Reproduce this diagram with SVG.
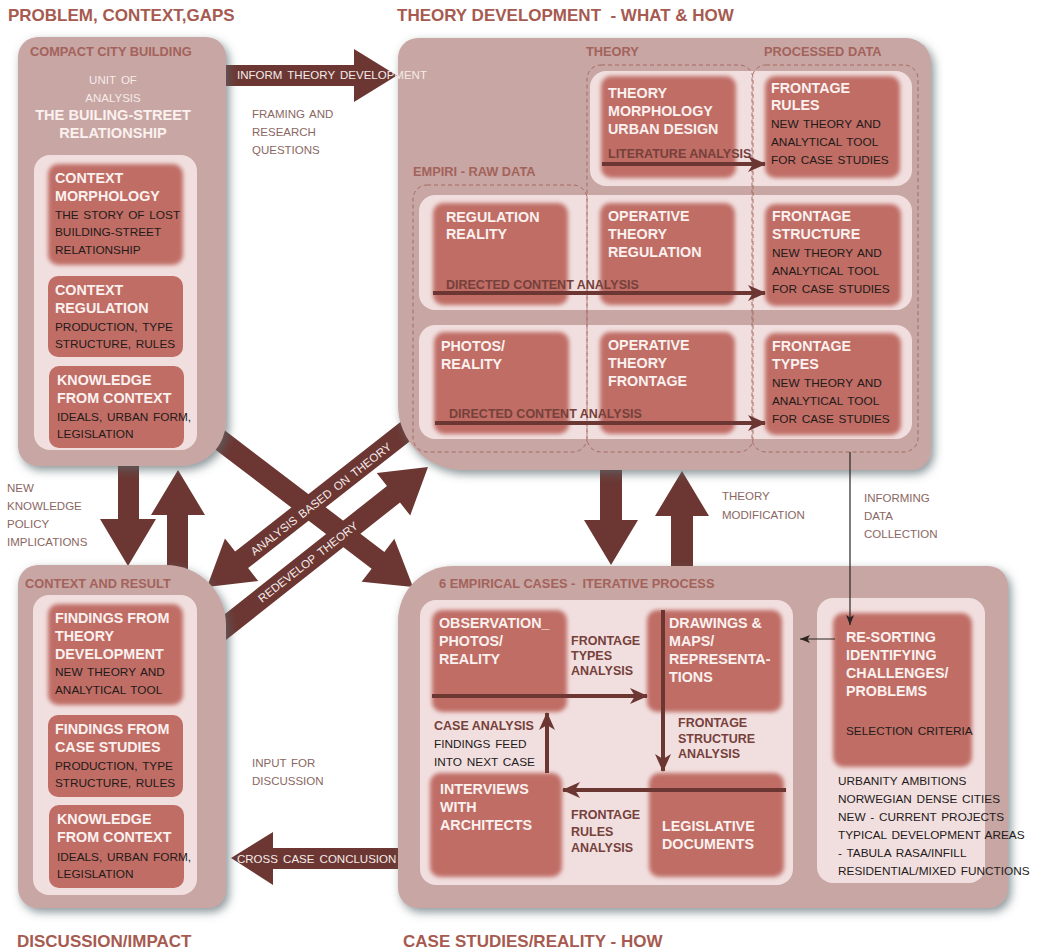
<svg xmlns="http://www.w3.org/2000/svg" width="1040" height="951" viewBox="0 0 1040 951">
  <defs>
    <style>
      text { font-family: 'Liberation Sans', Arial, sans-serif; }
      .ttl { font-weight: bold; font-size: 17px; fill: #a65a50; }
      .plab { font-weight: bold; font-size: 12.8px; fill: #a3625b; }
      .h { font-weight: bold; font-size: 14.3px; fill: #fbf1ef; }
      .hw { font-weight: bold; font-size: 14.6px; fill: #fbf1ef; }
      .b { font-size: 11.8px; fill: #231a19; word-spacing: 1.5px; }
      .g { font-size: 11.5px; fill: #8a6762; word-spacing: 1.5px; }
      .w { font-size: 11.5px; fill: #f4ebe9; word-spacing: 2px; }
      .d { font-weight: bold; font-size: 12.5px; fill: #76403b; }
      .panel { fill: #c8a6a3; filter: url(#shadow); }
      .inner { fill: #f1dfdf; }
      .node { fill: #bf6d65; }
      .soft { fill: #bf6d65; filter: url(#soft); }
      .blk { fill: #6c3733; }
      .flow { stroke: #6c3733; stroke-width: 4; fill: none; marker-end: url(#head); }
      .thin { stroke: #2b2423; stroke-width: 1.2; fill: none; marker-end: url(#thinhead); }
      .dash { fill: none; stroke: #a66a63; stroke-width: 1; stroke-dasharray: 4 3; }
    </style>
    <filter id="shadow" x="-10%" y="-10%" width="125%" height="125%">
      <feDropShadow dx="3" dy="4" stdDeviation="5" flood-color="#56666a" flood-opacity="0.7"/>
    </filter>
    <filter id="soft" x="-10%" y="-10%" width="120%" height="120%">
      <feGaussianBlur stdDeviation="2.2"/>
    </filter>
    <marker id="head" markerUnits="userSpaceOnUse" markerWidth="18" markerHeight="16" refX="17" refY="8" orient="auto">
      <path d="M0,0 L18,8 L0,16 L5,8 Z" fill="#6c3733"/>
    </marker>
    <marker id="thinhead" markerUnits="userSpaceOnUse" markerWidth="10" markerHeight="8" refX="10" refY="4" orient="auto">
      <path d="M0,0 L10,4 L0,8 L2.5,4 Z" fill="#2b2423"/>
    </marker>
  </defs>

  <rect width="1040" height="951" fill="#ffffff"/>

  <!-- section titles -->
  <text class="ttl" x="8" y="21">PROBLEM, CONTEXT,GAPS</text>
  <text class="ttl" x="397" y="21" xml:space="preserve">THEORY DEVELOPMENT  - WHAT &amp; HOW</text>
  <text class="ttl" x="17" y="947">DISCUSSION/IMPACT</text>
  <text class="ttl" x="403" y="947">CASE STUDIES/REALITY - HOW</text>

  <!-- block arrows running between the four panels (drawn beneath them) -->
  <g id="connectors">
    <!-- inform theory development -->
    <path class="blk" d="M220,65 H354 V49 L397,75.5 L354,102 V86 H220 Z"/>
    <!-- new knowledge down / up -->
    <path class="blk" d="M118,455 H139 V519 H156 L128,566 L100,519 H118 Z"/>
    <path class="blk" d="M167,575 V515 H151 L178,470 L205,515 H188 V575 Z"/>
    <!-- theory to cases, cases back to theory -->
    <path class="blk" d="M600,460 H622 V520 H638 L611,565 L584,520 H600 Z"/>
    <path class="blk" d="M671,575 V516 H655 L682,471 L709,516 H693 V575 Z"/>
    <!-- problem panel to cases -->
    <path class="blk" transform="translate(413,587) rotate(37.3)" d="M-270,-10.5 H-44 V-27 L0,0 L-44,27 V10.5 H-270 Z"/>
    <!-- analysis based on theory -->
    <path class="blk" transform="translate(207,587) rotate(141.9)" d="M-265,-10.5 H-44 V-27 L0,0 L-44,27 V10.5 H-265 Z"/>
    <!-- redevelop theory -->
    <path class="blk" transform="translate(428,467) rotate(-38.3)" d="M-275,-10.5 H-44 V-27 L0,0 L-44,27 V10.5 H-275 Z"/>
    <!-- cross case conclusion -->
    <path class="blk" d="M405,848 H273 V832 L231,858 L273,885 V869 H405 Z"/>
  </g>

  <!-- PROBLEM / CONTEXT panel -->
  <g id="panel-problem">
    <path class="panel" d="M38,37 H206 A20,20 0 0 1 226,57 V421 A45,45 0 0 1 181,466 H38 A20,20 0 0 1 18,446 V57 A20,20 0 0 1 38,37 Z"/>
    <text class="plab" x="30" y="56">COMPACT CITY BUILDING</text>
    <text class="w" x="113" y="84" text-anchor="middle">UNIT OF</text>
    <text class="w" x="113" y="102" text-anchor="middle">ANALYSIS</text>
    <text class="hw" x="113" y="120" text-anchor="middle">THE BUILING-STREET</text>
    <text class="hw" x="113" y="138" text-anchor="middle">RELATIONSHIP</text>
    <rect class="inner" x="34" y="155" width="163" height="295" rx="16"/>
    <g id="context-morphology">
      <rect class="soft" x="48" y="164" width="135" height="101" rx="10"/>
      <text class="h" x="55" y="183">CONTEXT</text>
      <text class="h" x="55" y="201">MORPHOLOGY</text>
      <text class="b" x="55" y="219">THE STORY OF LOST</text>
      <text class="b" x="55" y="236">BUILDING-STREET</text>
      <text class="b" x="55" y="254">RELATIONSHIP</text>
    </g>
    <g id="context-regulation">
      <rect class="node" x="48" y="276" width="135" height="81" rx="10"/>
      <text class="h" x="55" y="295">CONTEXT</text>
      <text class="h" x="55" y="313">REGULATION</text>
      <text class="b" x="55" y="331">PRODUCTION, TYPE</text>
      <text class="b" x="55" y="348">STRUCTURE, RULES</text>
    </g>
    <g id="knowledge-from-context-top">
      <rect class="node" x="49" y="366" width="135" height="82" rx="10"/>
      <text class="h" x="57" y="385">KNOWLEDGE</text>
      <text class="h" x="57" y="403">FROM CONTEXT</text>
      <text class="b" x="57" y="421">IDEALS, URBAN FORM,</text>
      <text class="b" x="57" y="438">LEGISLATION</text>
    </g>
  </g>

  <!-- CONTEXT AND RESULT panel -->
  <g id="panel-result">
    <path class="panel" d="M38,565 H166 A60,60 0 0 1 226,625 V890 A18,18 0 0 1 208,908 H38 A20,20 0 0 1 18,888 V585 A20,20 0 0 1 38,565 Z"/>
    <text class="plab" x="25" y="588">CONTEXT AND RESULT</text>
    <rect class="inner" x="33" y="595" width="164" height="300" rx="16"/>
    <g id="findings-theory">
      <rect class="soft" x="48" y="604" width="135" height="101" rx="10"/>
      <text class="h" x="55" y="623">FINDINGS FROM</text>
      <text class="h" x="55" y="641">THEORY</text>
      <text class="h" x="55" y="659">DEVELOPMENT</text>
      <text class="b" x="55" y="676">NEW THEORY AND</text>
      <text class="b" x="55" y="694">ANALYTICAL TOOL</text>
    </g>
    <g id="findings-cases">
      <rect class="node" x="48" y="715" width="135" height="82" rx="10"/>
      <text class="h" x="55" y="734">FINDINGS FROM</text>
      <text class="h" x="55" y="752">CASE STUDIES</text>
      <text class="b" x="55" y="770">PRODUCTION, TYPE</text>
      <text class="b" x="55" y="787">STRUCTURE, RULES</text>
    </g>
    <g id="knowledge-from-context-bottom">
      <rect class="node" x="49" y="805" width="135" height="83" rx="10"/>
      <text class="h" x="57" y="824">KNOWLEDGE</text>
      <text class="h" x="57" y="842">FROM CONTEXT</text>
      <text class="b" x="57" y="861">IDEALS, URBAN FORM,</text>
      <text class="b" x="57" y="878">LEGISLATION</text>
    </g>
  </g>

  <!-- THEORY DEVELOPMENT panel -->
  <g id="panel-theory">
    <path class="panel" d="M418,38 H906 A25,25 0 0 1 931,63 V450 A20,20 0 0 1 911,470 H463 A65,65 0 0 1 398,405 V58 A20,20 0 0 1 418,38 Z"/>
    <text class="plab" x="586" y="56">THEORY</text>
    <text class="plab" x="764" y="56">PROCESSED DATA</text>
    <text class="plab" x="413" y="176">EMPIRI - RAW DATA</text>
    <rect class="inner" x="590" y="71" width="322" height="115" rx="16"/>
    <rect class="inner" x="419" y="195" width="493" height="115" rx="16"/>
    <rect class="inner" x="419" y="325" width="493" height="114" rx="16"/>
    <rect class="dash" x="413" y="185" width="174" height="267" rx="14"/>
    <rect class="dash" x="587" y="65" width="166" height="387" rx="14"/>
    <rect class="dash" x="752" y="65" width="166" height="387" rx="14"/>
    <g id="theory-morphology">
      <rect class="soft" x="601" y="76" width="135" height="102" rx="10"/>
      <text class="h" x="608" y="98">THEORY</text>
      <text class="h" x="608" y="116">MORPHOLOGY</text>
      <text class="h" x="608" y="134">URBAN DESIGN</text>
    </g>
    <g id="frontage-rules">
      <rect class="soft" x="765" y="76" width="135" height="102" rx="10"/>
      <text class="h" x="771" y="93">FRONTAGE</text>
      <text class="h" x="771" y="110">RULES</text>
      <text class="b" x="771" y="128">NEW THEORY AND</text>
      <text class="b" x="771" y="146">ANALYTICAL TOOL</text>
      <text class="b" x="771" y="164">FOR CASE STUDIES</text>
    </g>
    <g id="regulation-reality">
      <rect class="soft" x="433" y="203" width="135" height="102" rx="10"/>
      <text class="h" x="446" y="222">REGULATION</text>
      <text class="h" x="446" y="239">REALITY</text>
    </g>
    <g id="operative-regulation">
      <rect class="soft" x="600" y="203" width="135" height="102" rx="10"/>
      <text class="h" x="608" y="221">OPERATIVE</text>
      <text class="h" x="608" y="239">THEORY</text>
      <text class="h" x="608" y="257">REGULATION</text>
    </g>
    <g id="frontage-structure">
      <rect class="soft" x="765" y="204" width="136" height="102" rx="10"/>
      <text class="h" x="772" y="221">FRONTAGE</text>
      <text class="h" x="772" y="239">STRUCTURE</text>
      <text class="b" x="772" y="257">NEW THEORY AND</text>
      <text class="b" x="772" y="275">ANALYTICAL TOOL</text>
      <text class="b" x="772" y="293">FOR CASE STUDIES</text>
    </g>
    <g id="photos-reality">
      <rect class="soft" x="434" y="332" width="135" height="102" rx="10"/>
      <text class="h" x="441" y="351">PHOTOS/</text>
      <text class="h" x="441" y="369">REALITY</text>
    </g>
    <g id="operative-frontage">
      <rect class="soft" x="600" y="332" width="135" height="102" rx="10"/>
      <text class="h" x="608" y="350">OPERATIVE</text>
      <text class="h" x="608" y="368">THEORY</text>
      <text class="h" x="608" y="386">FRONTAGE</text>
    </g>
    <g id="frontage-types">
      <rect class="soft" x="765" y="333" width="136" height="102" rx="10"/>
      <text class="h" x="772" y="351">FRONTAGE</text>
      <text class="h" x="772" y="369">TYPES</text>
      <text class="b" x="772" y="387">NEW THEORY AND</text>
      <text class="b" x="772" y="405">ANALYTICAL TOOL</text>
      <text class="b" x="772" y="423">FOR CASE STUDIES</text>
    </g>
  </g>

  <!-- EMPIRICAL CASES panel -->
  <g id="panel-cases">
    <path class="panel" d="M453,566 H988 A20,20 0 0 1 1008,586 V888 A20,20 0 0 1 988,908 H418 A20,20 0 0 1 398,888 V621 A55,55 0 0 1 453,566 Z"/>
    <text class="plab" x="439" y="588" xml:space="preserve">6 EMPIRICAL CASES -  ITERATIVE PROCESS</text>
    <rect class="inner" x="420" y="600" width="373" height="285" rx="16"/>
    <rect class="inner" x="817" y="598" width="168" height="285" rx="16"/>
    <g id="observation">
      <rect class="soft" x="432" y="610" width="135" height="102" rx="10"/>
      <text class="h" x="439" y="628">OBSERVATION_</text>
      <text class="h" x="439" y="646">PHOTOS/</text>
      <text class="h" x="439" y="664">REALITY</text>
    </g>
    <g id="drawings">
      <rect class="soft" x="647" y="610" width="135" height="102" rx="10"/>
      <text class="h" x="669" y="628">DRAWINGS &amp;</text>
      <text class="h" x="669" y="646">MAPS/</text>
      <text class="h" x="669" y="664">REPRESENTA-</text>
      <text class="h" x="669" y="682">TIONS</text>
    </g>
    <g id="interviews">
      <rect class="soft" x="430" y="773" width="132" height="104" rx="10"/>
      <text class="h" x="440" y="794">INTERVIEWS</text>
      <text class="h" x="440" y="812">WITH</text>
      <text class="h" x="440" y="830">ARCHITECTS</text>
    </g>
    <g id="legislative">
      <rect class="soft" x="649" y="773" width="135" height="104" rx="10"/>
      <text class="h" x="662" y="831">LEGISLATIVE</text>
      <text class="h" x="662" y="849">DOCUMENTS</text>
    </g>
    <g id="re-sorting">
      <rect class="soft" x="833" y="613" width="139" height="154" rx="10"/>
      <text class="h" x="846" y="642">RE-SORTING</text>
      <text class="h" x="846" y="660">IDENTIFYING</text>
      <text class="h" x="846" y="678">CHALLENGES/</text>
      <text class="h" x="846" y="696">PROBLEMS</text>
      <text class="b" x="846" y="735">SELECTION CRITERIA</text>
    </g>
    <g id="selection-list">
      <text class="b" x="838" y="785">URBANITY AMBITIONS</text>
      <text class="b" x="838" y="803">NORWEGIAN DENSE CITIES</text>
      <text class="b" x="838" y="821">NEW - CURRENT PROJECTS</text>
      <text class="b" x="838" y="839">TYPICAL DEVELOPMENT AREAS</text>
      <text class="b" x="838" y="857">- TABULA RASA/INFILL</text>
      <text class="b" x="838" y="875">RESIDENTIAL/MIXED FUNCTIONS</text>
    </g>
  </g>

  <!-- flow arrows inside panels, thin arrows and arrow labels -->
  <g id="connectors-overlay">
    <text class="w" x="237" y="79">INFORM THEORY DEVELOPMENT</text>
    <text class="g" x="252" y="118">FRAMING AND</text>
    <text class="g" x="252" y="136">RESEARCH</text>
    <text class="g" x="252" y="154">QUESTIONS</text>

    <text class="g" x="7" y="492">NEW</text>
    <text class="g" x="7" y="510">KNOWLEDGE</text>
    <text class="g" x="7" y="528">POLICY</text>
    <text class="g" x="7" y="546">IMPLICATIONS</text>

    <text class="w" transform="translate(321,499) rotate(-38)" text-anchor="middle" y="4">ANALYSIS BASED ON THEORY</text>
    <text class="w" transform="translate(308,562) rotate(-38)" text-anchor="middle" y="4">REDEVELOP THEORY</text>

    <text class="g" x="722" y="500">THEORY</text>
    <text class="g" x="722" y="519">MODIFICATION</text>
    <text class="g" x="864" y="502">INFORMING</text>
    <text class="g" x="864" y="520">DATA</text>
    <text class="g" x="864" y="538">COLLECTION</text>

    <text class="g" x="252" y="767">INPUT FOR</text>
    <text class="g" x="252" y="785">DISCUSSION</text>
    <text class="w" x="237" y="863">CROSS CASE CONCLUSION</text>

    <!-- theory development analyses -->
    <text class="d" x="608" y="158">LITERATURE ANALYSIS</text>
    <path class="flow" d="M602,164 H765"/>
    <text class="d" x="446" y="289">DIRECTED CONTENT ANALYSIS</text>
    <path class="flow" d="M433,293 H765"/>
    <text class="d" x="449" y="418">DIRECTED CONTENT ANALYSIS</text>
    <path class="flow" d="M435,423 H765"/>

    <!-- informing data collection -->
    <path class="thin" d="M850,452 V625"/>
    <path class="thin" d="M835,639 H800"/>

    <!-- iterative case cycle -->
    <path class="flow" d="M432,696 H647"/>
    <text class="d" x="571" y="645">FRONTAGE</text>
    <text class="d" x="571" y="660">TYPES</text>
    <text class="d" x="571" y="675">ANALYSIS</text>
    <path class="flow" d="M663,610 V771"/>
    <text class="d" x="678" y="727">FRONTAGE</text>
    <text class="d" x="678" y="743">STRUCTURE</text>
    <text class="d" x="678" y="758">ANALYSIS</text>
    <path class="flow" d="M786,790 H563"/>
    <text class="d" x="571" y="819">FRONTAGE</text>
    <text class="d" x="571" y="836">RULES</text>
    <text class="d" x="571" y="852">ANALYSIS</text>
    <path class="flow" d="M547,773 V713"/>
    <text class="d" x="434" y="730">CASE ANALYSIS</text>
    <text class="b" x="434" y="748">FINDINGS FEED</text>
    <text class="b" x="434" y="766">INTO NEXT CASE</text>
  </g>
</svg>
